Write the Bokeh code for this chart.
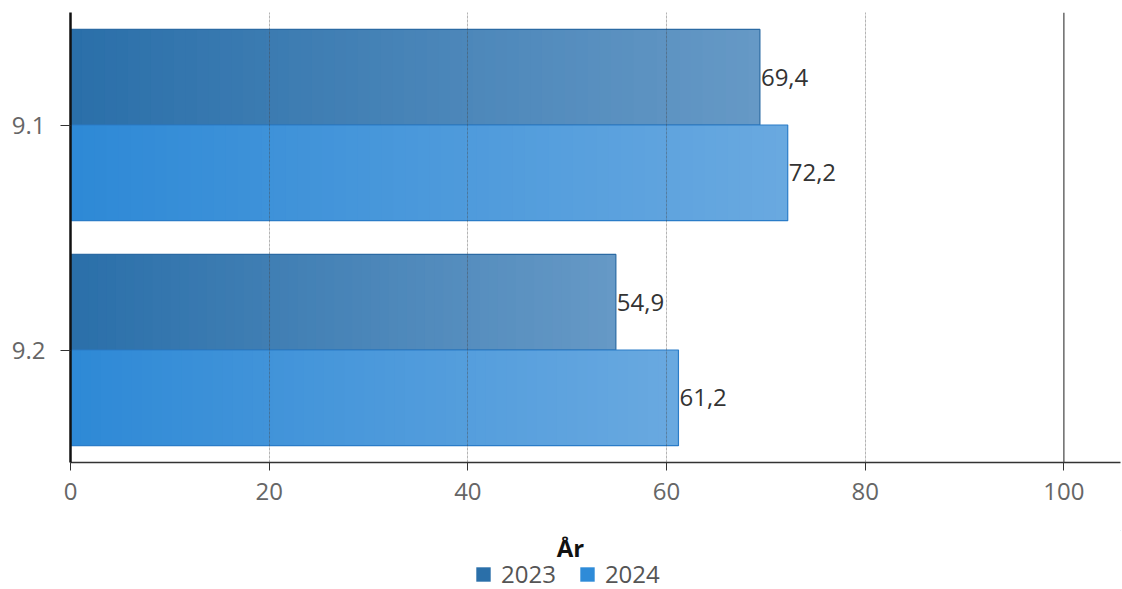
from bokeh.plotting import figure
from bokeh.layouts import column
from bokeh.models import (Range1d, FixedTicker, ColumnDataSource, Legend, LegendItem, Span, Label)
from bokeh.embed import file_html
from bokeh.resources import INLINE
from bokeh.core.properties import value

categories = ["9.1", "9.2"]
years = ["2023", "2024"]
values_2023 = [69.4, 54.9]
values_2024 = [72.2, 61.2]
x_ticks = [0, 20, 40, 60, 80, 100]
legend_title = "År"

FONT = "Open Sans"
FS = "24px"
grad = {
    "2023": ((0x2a, 0x6f, 0xa9), (0x66, 0x99, 0xc6)),
    "2024": ((0x2e, 0x89, 0xd6), (0x69, 0xa9, 0xe0)),
}
outline = {"2023": "#2b6aa3", "2024": "#2a7cc8"}
solid = {"2023": "#2a6fa9", "2024": "#2e8bd8"}

ncat = len(categories)
centers = [ncat - 0.5 - i for i in range(ncat)]
bar_h = 0.425
offsets = {"2023": bar_h / 2, "2024": -bar_h / 2}
series = {"2023": values_2023, "2024": values_2024}

W = 1122
p = figure(width=W, height=530, output_backend="svg", toolbar_location=None,
           x_range=Range1d(0, 105.7), y_range=Range1d(0, ncat),
           min_border_left=70, min_border_right=2, min_border_top=12, min_border_bottom=68)
p.outline_line_color = None
p.background_fill_color = "white"
p.border_fill_color = "white"

N = 60
for yr in years:
    vals = series[yr]
    c0, c1 = grad[yr]
    lefts, rights, ys, cols = [], [], [], []
    for ci, v in enumerate(vals):
        for k in range(N):
            t = (k + 0.5) / N
            col = "#%02x%02x%02x" % tuple(int(round(a + (b - a) * t)) for a, b in zip(c0, c1))
            lefts.append(v * k / N)
            rights.append(v * (k + 1) / N + (v / N * 0.3 if k < N - 1 else 0))
            ys.append(centers[ci] + offsets[yr])
            cols.append(col)
    p.hbar(y=ys, left=lefts, right=rights, height=bar_h, fill_color=cols, line_color=None)
    src = ColumnDataSource(dict(y=[centers[i] + offsets[yr] for i in range(ncat)], v=vals,
                                lab=[("%.1f" % v).replace(".", ",") for v in vals]))
    p.hbar(y="y", left=0, right="v", height=bar_h, source=src, fill_color=None,
           line_color=outline[yr], line_width=1.2)
    p.text(x="v", y="y", text="lab", source=src, x_offset=1, text_baseline="middle",
           text_align="left", text_font=value(FONT), text_font_size=FS, text_color="#333333")

p.xaxis.ticker = FixedTicker(ticks=x_ticks)
p.xgrid.ticker = FixedTicker(ticks=[20, 40, 60, 80])
p.xgrid.grid_line_color = "#444444"
p.xgrid.grid_line_alpha = 0.4
p.xgrid.grid_line_dash = "3 1"
p.xgrid.level = "annotation"
p.ygrid.grid_line_color = None
p.add_layout(Span(location=100, dimension="height", line_color="#444444", line_width=1.2))

p.xaxis.axis_line_color = "#333333"
p.xaxis.axis_line_width = 1.5
p.xaxis.major_tick_line_color = "#333333"
p.xaxis.major_tick_out = 8
p.xaxis.major_tick_in = 0
p.xaxis.minor_tick_line_color = None
p.xaxis.major_label_text_font = FONT
p.xaxis.major_label_text_font_size = FS
p.xaxis.major_label_text_color = "#666666"
p.xaxis.major_label_standoff = 12

p.yaxis.ticker = FixedTicker(ticks=centers)
p.yaxis.major_label_overrides = {c: lab for c, lab in zip(centers, categories)}
p.yaxis.axis_line_color = "#111111"
p.yaxis.axis_line_width = 2.5
p.yaxis.major_tick_line_color = "#333333"
p.yaxis.major_tick_out = 10
p.yaxis.major_tick_in = 0
p.yaxis.minor_tick_line_color = None
p.yaxis.major_label_text_font = FONT
p.yaxis.major_label_text_font_size = FS
p.yaxis.major_label_text_color = "#666666"
p.yaxis.major_label_standoff = 15

# legend in a small figure below (column aligns its frame with the main frame, left = 70)
lf = figure(width=W, height=59, output_backend="svg", toolbar_location=None,
            x_range=Range1d(0, 1), y_range=Range1d(0, 1),
            min_border=0, outline_line_color=None)
lf.axis.visible = False
lf.grid.visible = False
items = []
for yr in years:
    r = lf.hbar(y=[5], left=[5], right=[6], height=0.1, fill_color=solid[yr], line_color=None)
    items.append(LegendItem(label=yr, renderers=[r]))
legend = Legend(items=items, orientation="horizontal", location=(404, -1),
                label_text_font=FONT, label_text_font_size=FS, label_text_color="#555555",
                glyph_width=18, glyph_height=18, spacing=22, label_standoff=9,
                border_line_color=None, background_fill_alpha=0, margin=0, padding=0)
lf.add_layout(legend, "center")
lf.add_layout(Label(x=500, y=42, x_units="screen", y_units="screen", text=legend_title,
                    text_align="center", text_baseline="middle", text_font=FONT,
                    text_font_style="bold", text_font_size=FS, text_color="#111111"))

open("out.html", "w").write(file_html(column(p, lf, spacing=0), INLINE))
